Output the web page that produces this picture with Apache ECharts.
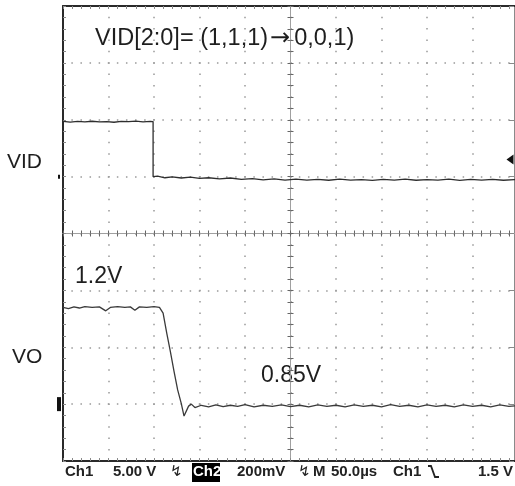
<!DOCTYPE html>
<html><head><meta charset="utf-8">
<script src="https://cdn.jsdelivr.net/npm/echarts@6/dist/echarts.min.js"></script>
<style>html,body{margin:0;padding:0;background:#fff}#c{width:515px;height:486px}</style>
</head><body><div id="c"></div>
<script>
// ---- data (time in µs, levels in volts) ----
const vidTime = [0, 8, 16, 24, 32, 40, 48, 56, 64, 72, 80, 88, 96, 99,
  99, 104, 112, 120, 130, 140, 150, 160, 172, 184, 196, 208, 220, 232, 244, 256, 268, 280,
  292, 304, 316, 328, 340, 352, 364, 376, 388, 400, 412, 424, 436, 448, 460, 472, 484, 496, 500];
const vidVolts = [4.85, 4.80, 4.86, 4.82, 4.87, 4.81, 4.84, 4.78, 4.86, 4.83, 4.88, 4.82, 4.85, 4.84,
  0.0, 0.05, -0.1, -0.02, -0.12, -0.05, -0.15, -0.1, -0.2, -0.12, -0.25, -0.18, -0.28, -0.2, -0.3, -0.22,
  -0.3, -0.25, -0.32, -0.22, -0.3, -0.26, -0.33, -0.24, -0.3, -0.22, -0.32, -0.26, -0.3, -0.22, -0.33,
  -0.25, -0.3, -0.24, -0.32, -0.26, -0.3];
const voTime = [0, 6, 12, 18, 24, 32, 40, 47, 52, 60, 68, 74, 79, 84, 92, 100, 106, 110, 114, 118, 122,
  126, 130, 133, 135, 138, 141, 145, 152, 160, 168, 176, 184, 192, 200, 210, 220, 230, 240, 250, 260,
  270, 280, 290, 300, 310, 320, 330, 340, 350, 360, 370, 380, 390, 400, 410, 420, 430, 440, 450, 460,
  470, 480, 490, 500];
const voVolts = [1.19, 1.186, 1.192, 1.188, 1.193, 1.19, 1.192, 1.178, 1.19, 1.193, 1.19, 1.192, 1.18,
  1.192, 1.19, 1.193, 1.19, 1.17, 1.10, 1.035, 0.965, 0.90, 0.852, 0.808, 0.815, 0.843, 0.85, 0.838,
  0.846, 0.84, 0.847, 0.841, 0.846, 0.842, 0.848, 0.84, 0.846, 0.842, 0.847, 0.841, 0.846, 0.84, 0.847,
  0.842, 0.846, 0.84, 0.847, 0.842, 0.846, 0.84, 0.848, 0.842, 0.846, 0.84, 0.847, 0.842, 0.846, 0.84,
  0.847, 0.842, 0.846, 0.84, 0.847, 0.842, 0.845];
const timeRange = [0, 500];      // 10 div x 50 µs
const vidRange = [-25, 15];      // 8 div x 5 V (Ch1)
const voRange = [0.65, 2.25];    // 8 div x 200 mV (Ch2)
const divRangeX = [-250, 250];   // centre graticule
const divRangeY = [-4, 4];
const vidGround = 0;
const voMarker = 0.85;
const triggerLevel = 1.5;
const titleParts = ['VID[2:0]= (1,1,1)', '\u2192', '0,0,1)'];
const annotations = ['VID', 'VO', '1.2V', '0.85V'];
const statusLabels = ['Ch1', '5.00 V', '\u21AF', 'Ch2', '200mV', '\u21AF', 'M', '50.0\u00B5s', 'Ch1', '', '1.5 V'];

// ---- layout / style ----
const statusX = [65, 113, 170, 193, 237, 298, 313, 331, 393, 428, 478];
const dotV = {color: '#999', width: 1.5, type: [1.5, 9.875], dashOffset: 0.75};
const dotH = {color: '#999', width: 1.5, type: [1.5, 7.6], dashOffset: 0.75};
const border = {color: '#2a2a2a', width: 2};
const edgeTick = {show: true, inside: true, length: 3, lineStyle: {color: '#8a8a8a'}};
const edgeMinor = {show: true, splitNumber: 5, length: 3, lineStyle: {color: '#8a8a8a'}};
const cTick = {show: true, length: 3, lineStyle: {color: '#666'}};
const cMinor = {show: true, splitNumber: 5, length: 3, lineStyle: {color: '#666'}};
const noLabel = {show: false};
const noSplit = {show: false};
const FONT = '"Liberation Sans", Arial, sans-serif';

const chart = echarts.init(document.getElementById('c'), null, {renderer: 'canvas'});

const graphics = [
  {type: 'text', x: 95, y: 39, style: {
    text: '{a|' + titleParts[0] + '}{b|' + titleParts[1] + '}{a|' + titleParts[2] + '}',
    verticalAlign: 'middle',
    rich: {
      a: {font: '23.5px ' + FONT, fill: '#1e1e1e'},
      b: {font: '24px "DejaVu Sans", sans-serif', fill: '#1e1e1e', padding: [0, 4, 0, 2]}
    }}},
  {type: 'text', x: 7, y: 162, style: {text: annotations[0], font: '21px ' + FONT, fill: '#1e1e1e', verticalAlign: 'middle'}},
  {type: 'text', x: 12, y: 357, style: {text: annotations[1], font: '21px ' + FONT, fill: '#1e1e1e', verticalAlign: 'middle'}},
  {type: 'text', x: 75, y: 277, style: {text: annotations[2], font: '23px ' + FONT, fill: '#1e1e1e', verticalAlign: 'middle'}},
  {type: 'text', x: 261, y: 376, style: {text: annotations[3], font: '23px ' + FONT, fill: '#1e1e1e', verticalAlign: 'middle'}},
  {type: 'rect', shape: {x: 192, y: 463, width: 28, height: 19}, style: {fill: '#000'}},
  // falling-edge trigger slope glyph
  {type: 'polyline', shape: {points: [[428, 466], [431, 466], [435, 477], [439, 477]]},
    style: {stroke: '#222', lineWidth: 1.8, fill: null}}
];
statusLabels.forEach((s, i) => {
  if (!s) return;
  const inv = i === 3;
  const sym = s === '\u21AF';
  graphics.push({type: 'text', x: statusX[i], y: 472,
    style: {text: s, font: (sym ? '15px "DejaVu Sans", sans-serif' : 'bold 15px ' + FONT),
      fill: inv ? '#fff' : '#222', verticalAlign: 'middle'}});
});

const option = {
  animation: false,
  backgroundColor: '#fff',
  grid: {left: 63, top: 6, width: 455, height: 455, outerBoundsMode: 'none', containLabel: false},
  xAxis: [
    {type: 'value', min: timeRange[0], max: timeRange[1], interval: 50, position: 'bottom',
      axisLine: {show: true, onZero: false, lineStyle: border}, axisTick: edgeTick, minorTick: edgeMinor,
      axisLabel: noLabel, splitLine: {show: true, lineStyle: dotV}},
    {type: 'value', min: timeRange[0], max: timeRange[1], interval: 50, position: 'top',
      axisLine: {show: true, onZero: false, lineStyle: border}, axisTick: edgeTick, minorTick: edgeMinor,
      axisLabel: noLabel, splitLine: noSplit},
    {type: 'value', min: divRangeX[0], max: divRangeX[1], interval: 50, position: 'bottom',
      axisLine: {show: true, onZero: true, onZeroAxisIndex: 2, lineStyle: {color: '#a0a0a0', width: 1}},
      axisTick: cTick, minorTick: cMinor, axisLabel: noLabel, splitLine: noSplit},
    {type: 'value', min: divRangeX[0], max: divRangeX[1], interval: 50, position: 'top',
      axisLine: {show: true, onZero: true, onZeroAxisIndex: 2, lineStyle: {color: '#a0a0a0', width: 1}},
      axisTick: cTick, minorTick: cMinor, axisLabel: noLabel, splitLine: noSplit}
  ],
  yAxis: [
    {type: 'value', min: vidRange[0], max: vidRange[1], interval: 5, position: 'left',
      axisLine: {show: true, onZero: false, lineStyle: border}, axisTick: edgeTick, minorTick: edgeMinor,
      axisLabel: noLabel, splitLine: {show: true, lineStyle: dotH}},
    {type: 'value', min: voRange[0], max: voRange[1], position: 'right', show: false,
      axisLine: {onZero: false}},
    {type: 'value', min: divRangeY[0], max: divRangeY[1], interval: 1, position: 'left',
      axisLine: {show: true, onZero: true, onZeroAxisIndex: 2, lineStyle: {color: '#a0a0a0', width: 1}},
      axisTick: cTick, minorTick: cMinor, axisLabel: noLabel, splitLine: noSplit},
    {type: 'value', min: divRangeY[0], max: divRangeY[1], interval: 1, position: 'right',
      axisLine: {show: true, onZero: true, onZeroAxisIndex: 2, lineStyle: {color: '#a0a0a0', width: 1}},
      axisTick: cTick, minorTick: cMinor, axisLabel: noLabel, splitLine: noSplit},
    {type: 'value', min: divRangeY[0], max: divRangeY[1], interval: 1, position: 'right', offset: -4,
      axisLine: {show: true, onZero: false, lineStyle: {color: '#8a8a8a', width: 1}},
      axisTick: {show: true, inside: true, length: 5, lineStyle: {color: '#8a8a8a'}},
      minorTick: {show: false}, axisLabel: noLabel, splitLine: noSplit}
  ],
  series: [
    {type: 'line', name: 'VID', xAxisIndex: 0, yAxisIndex: 0, symbol: 'none', silent: true,
      data: vidTime.map((t, i) => [t, vidVolts[i]]),
      lineStyle: {color: '#2e2e2e', width: 1.3}, z: 5,
      markPoint: {silent: true, label: {show: false}, itemStyle: {color: '#111'}, animation: false,
        data: [
          {coord: [timeRange[0], vidGround], symbol: 'rect', symbolSize: [2, 4], symbolOffset: [-4, 0]},
          {coord: [timeRange[1], triggerLevel], symbol: 'triangle', symbolRotate: 90, symbolSize: [10, 7], symbolOffset: [-8, 0]}
        ]}},
    {type: 'line', name: 'VO', xAxisIndex: 0, yAxisIndex: 1, symbol: 'none', silent: true,
      data: voTime.map((t, i) => [t, voVolts[i]]),
      lineStyle: {color: '#3a3a3a', width: 1.3}, z: 5,
      markPoint: {silent: true, label: {show: false}, itemStyle: {color: '#111'}, animation: false,
        data: [
          {coord: [timeRange[0], voMarker], symbol: 'rect', symbolSize: [4, 14], symbolOffset: [-4, 0]}
        ]}}
  ],
  graphic: graphics
};
chart.setOption(option);
</script>
</body></html>
